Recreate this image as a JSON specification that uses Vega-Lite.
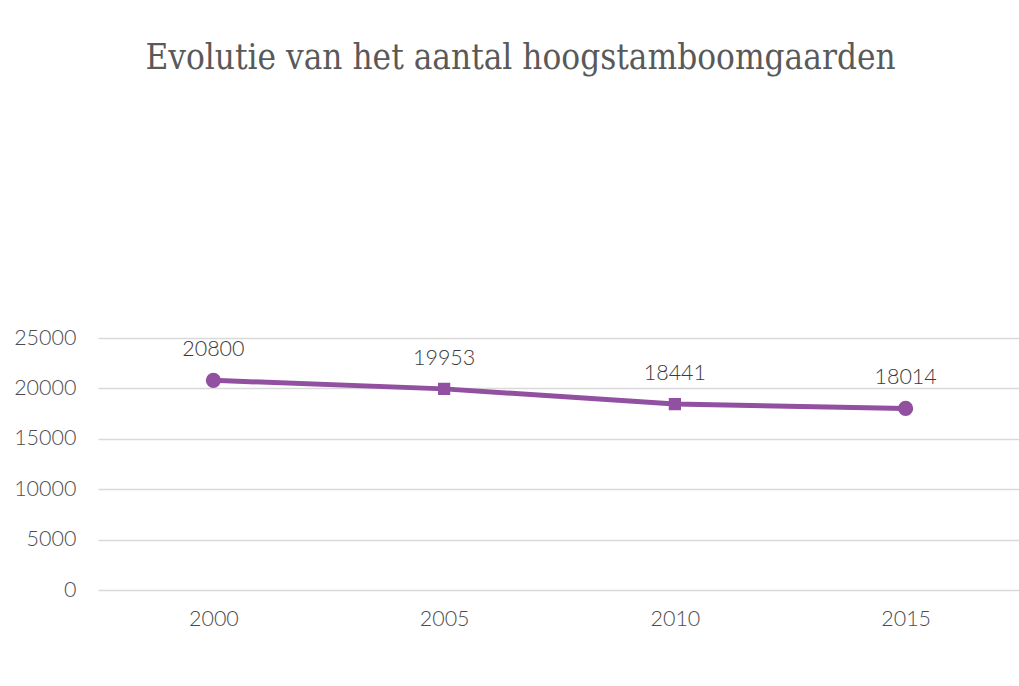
{
  "$schema": "https://vega.github.io/schema/vega-lite/v6.json",
  "autosize": "none",
  "width": 923,
  "height": 252,
  "padding": {"left": 98, "top": 338, "right": 0, "bottom": 96},
  "background": "white",
  "title": {
    "text": "Evolutie van het aantal hoogstamboomgaarden",
    "font": "DejaVu Serif Condensed",
    "fontSize": 34.8,
    "fontWeight": "normal",
    "color": "#595959",
    "anchor": "middle",
    "frame": "group",
    "dx": -39,
    "offset": 250
  },
  "data": {
    "values": [
      {"year": "2000", "count": 20800},
      {"year": "2005", "count": 19953},
      {"year": "2010", "count": 18441},
      {"year": "2015", "count": 18014}
    ]
  },
  "config": {
    "view": {"stroke": null},
    "axis": {
      "labelFont": "Lato",
      "labelFontSize": 21.5,
      "labelFontWeight": 300,
      "labelColor": "#4d4d4d",
      "ticks": false,
      "domain": false,
      "title": null
    }
  },
  "encoding": {
    "x": {
      "field": "year",
      "type": "ordinal",
      "scale": {"paddingInner": 0, "paddingOuter": 0},
      "axis": {"labelAngle": 0, "labelPadding": 18, "grid": false}
    },
    "y": {
      "field": "count",
      "type": "quantitative",
      "scale": {"domain": [0, 25000]},
      "axis": {"values": [0, 5000, 10000, 15000, 20000, 25000], "format": "d", "labelPadding": 22, "grid": true, "gridColor": "#d9d9d9", "gridWidth": 1.5}
    }
  },
  "layer": [
    {"mark": {"type": "line", "color": "#9150A0", "strokeWidth": 5}},
    {
      "transform": [{"filter": "datum.year == '2000' || datum.year == '2015'"}],
      "mark": {"type": "point", "shape": "circle", "filled": true, "opacity": 1, "color": "#9150A0", "size": 230}
    },
    {
      "transform": [{"filter": "datum.year == '2005' || datum.year == '2010'"}],
      "mark": {"type": "point", "shape": "square", "filled": true, "opacity": 1, "color": "#9150A0", "size": 150}
    },
    {
      "mark": {"type": "text", "dy": -30, "font": "Lato", "fontWeight": 300, "fontSize": 21.5, "color": "#3a3a3a", "baseline": "middle"},
      "encoding": {"text": {"field": "count", "type": "quantitative", "format": "d"}}
    }
  ]
}
